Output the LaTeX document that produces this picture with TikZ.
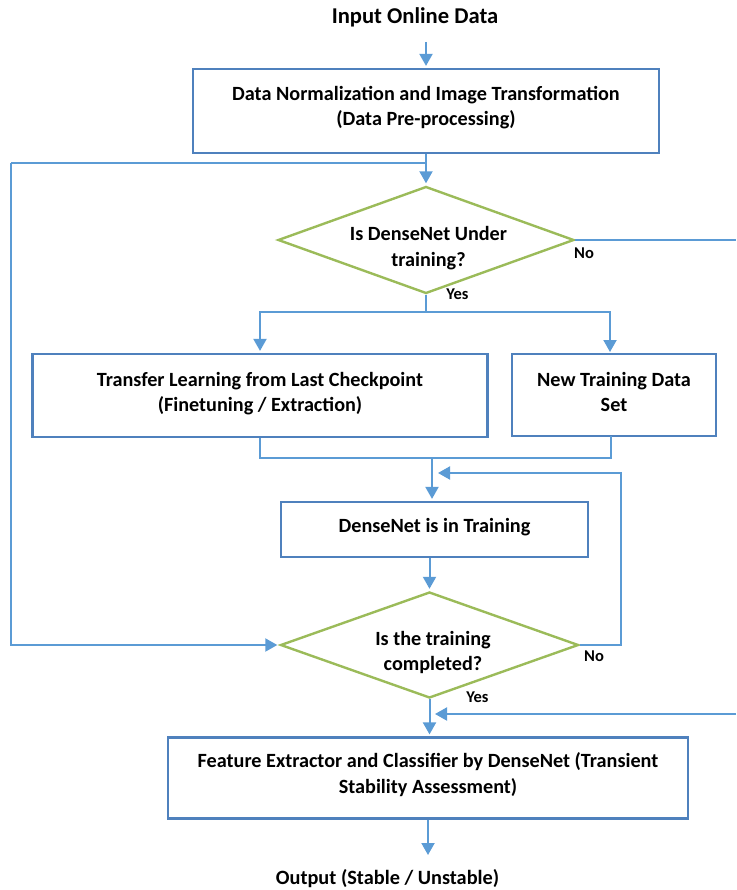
\documentclass[tikz,border=0pt]{standalone}
\usepackage{fontspec}
\setmainfont{Carlito}
\usetikzlibrary{shapes.geometric,arrows.meta}

\definecolor{boxblue}{RGB}{79,129,189}
\definecolor{linkblue}{RGB}{91,155,213}
\definecolor{decgreen}{RGB}{155,187,89}

\tikzset{
  bodyfont/.style={font=\fontsize{20.2}{25.5}\selectfont\bfseries},
  procbox/.style={draw=boxblue, line width=2.2pt, rectangle, inner sep=0pt},
  boxtext/.style={bodyfont, align=center, inner sep=0pt},
  decision/.style={draw=decgreen, line width=2.4pt, diamond, inner sep=0pt},
  plaintext/.style={inner sep=0pt},
  answer/.style={inner sep=0pt, font=\fontsize{16.5}{20}\selectfont\bfseries},
  link/.style={draw=linkblue, line width=2pt},
  arr/.style={link, -{Triangle[length=12pt,width=13pt]}, shorten >=2pt},
}

\begin{document}
\begin{tikzpicture}[x=1pt,y=-1pt]
\useasboundingbox (0,0) rectangle (736,890);

% terminals
\node[plaintext, font=\fontsize{22.6}{27}\selectfont\bfseries] (in) at (415,17) {Input Online Data};
\node[plaintext, font=\fontsize{20.3}{25}\selectfont\bfseries] (out) at (387.5,879) {Output (Stable / Unstable)};

% process boxes
\node[procbox, minimum width=466pt, minimum height=84pt] (b1) at (426,111) {};
\node[boxtext] (b1t) at (426,107.5)
  {Data Normalization and Image Transformation\\(Data Pre-processing)};
\node[procbox, minimum width=455pt, minimum height=83pt] (b2) at (260,395.5) {};
\node[boxtext] (b2t) at (260,393.5)
  {Transfer Learning from Last Checkpoint\\(Finetuning / Extraction)};
\node[procbox, minimum width=204pt, minimum height=82pt] (b3) at (614,395) {};
\node[boxtext] (b3t) at (614,392)
  {New Training Data\\Set};
\node[procbox, minimum width=307pt, minimum height=55pt] (b4) at (434.5,529.5) {};
\node[boxtext] (b4t) at (434.5,527.5)
  {DenseNet is in Training};
\node[procbox, minimum width=520pt, minimum height=81pt] (b5) at (428,778) {};
\node[boxtext] (b5t) at (428,774.5)
  {Feature Extractor and Classifier by DenseNet (Transient\\Stability Assessment)};

% decisions
\node[decision, minimum width=296pt, minimum height=107pt] (d1) at (426,240) {};
\node[boxtext] (d1t) at (428.5,248) {Is DenseNet Under\\training?};
\node[decision, minimum width=298pt, minimum height=106pt] (d2) at (429.5,645) {};
\node[boxtext] (d2t) at (433,652.5) {Is the training\\completed?};

% answer labels
\node[answer] (no1)  at (584,253) {No};
\node[answer] (yes1) at (457.5,294) {Yes};
\node[answer] (no2)  at (594,656) {No};
\node[answer] (yes2) at (477.5,697) {Yes};

% junction and routing points
\coordinate (intop) at (426,42);
\coordinate (j1)   at (426,163);
\coordinate (lx)   at (11,163);
\coordinate (rx1)  at (736,240);
\coordinate (ybr)  at (426,312);
\coordinate (b3in) at (610,354);
\coordinate (b3out) at (611,436);
\coordinate (mj)   at (432,458);
\coordinate (fb)   at (621,473);
\coordinate (fbin) at (436,473);
\coordinate (rx2)  at (736,714);
\coordinate (rin)  at (433,714);
\coordinate (outtip) at (428,857);

% main flow
\draw[arr] (intop) -- (b1.north);
\draw[arr] (b1.south) -- (b1.south |- d1.north);
\draw[link] (j1) -- (lx);
\draw[arr] (lx) |- (d2.west);
\draw[link] (d1.east) -- (d1.east -| rx1);

% yes branch of the first decision
\draw[link] (d1.south) -- (ybr);
\draw[arr] (ybr) -| (b2.north);
\draw[arr] (ybr) -| (b3in);

% merge into training
\draw[link] (b2.south) |- (mj) -| (b3out);
\draw[arr] (mj) -- (mj |- b4.north);
\draw[arr] (b4.south -| d2.north) -- (d2.north);

% retraining loop
\draw[arr] (d2.east) -| (fb) -- (fbin);

% completion
\draw[arr] (d2.south) -- (d2.south |- b5.north);
\draw[arr] (rx2) -- (rin);
\draw[arr] (b5.south) -- (outtip);
\end{tikzpicture}
\end{document}
